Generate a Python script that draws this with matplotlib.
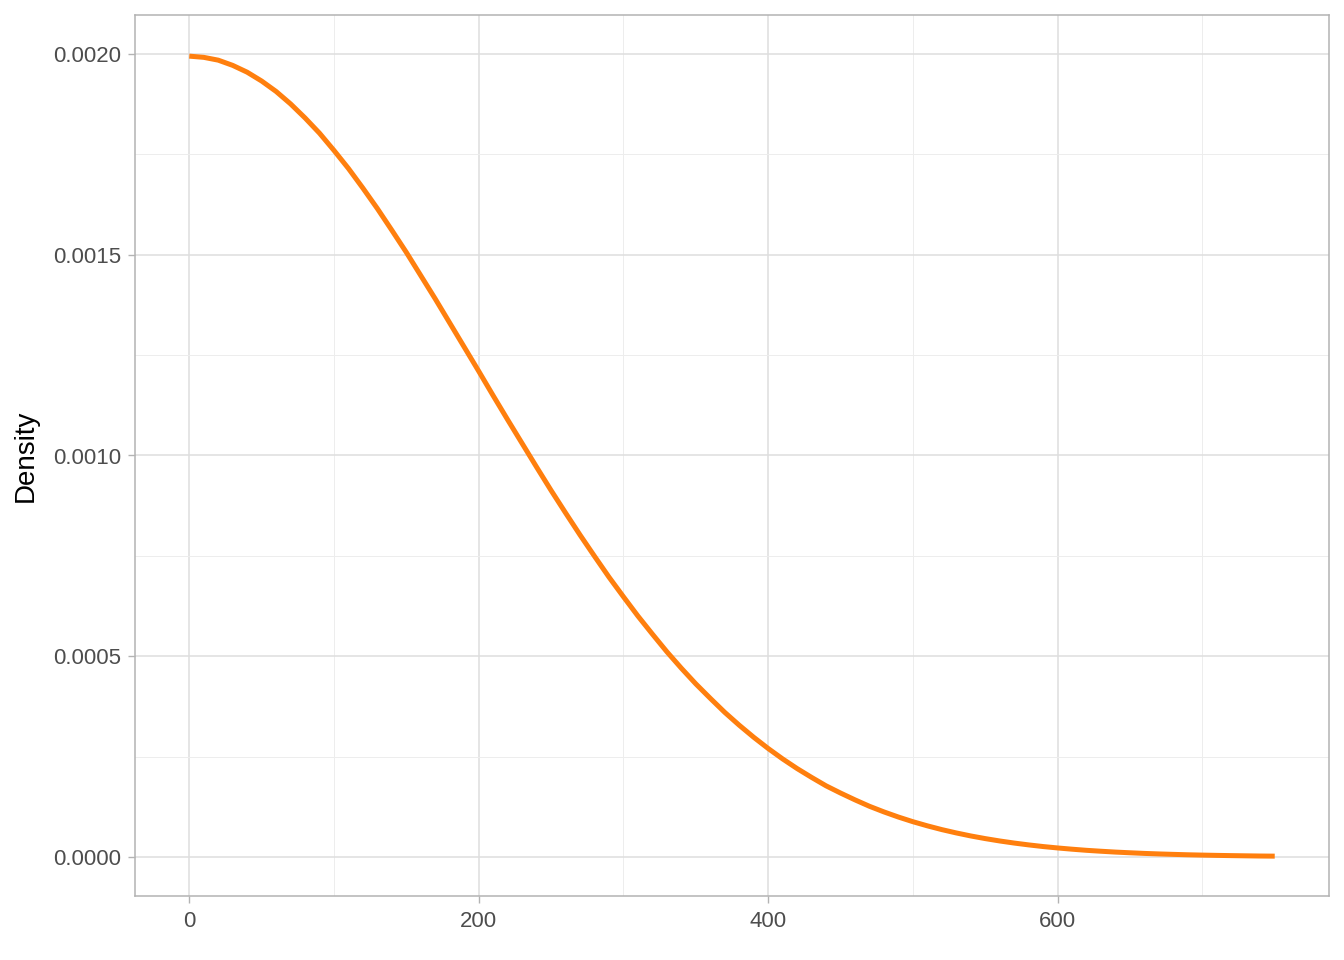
import matplotlib
matplotlib.use("Agg")
import matplotlib.pyplot as plt
import numpy as np

# values (x every 10 units)
x_vals = list(range(0, 751, 10))
density = [0.001995, 0.001992, 0.001985, 0.001972, 0.001955, 0.001933, 0.001907,
           0.001876, 0.001841, 0.001803, 0.001760, 0.001715, 0.001666, 0.001615,
           0.001561, 0.001506, 0.001448, 0.001390, 0.001330, 0.001270, 0.001210,
           0.001149, 0.001089, 0.001030, 0.000971, 0.000913, 0.000857, 0.000802,
           0.000749, 0.000697, 0.000648, 0.000600, 0.000555, 0.000511, 0.000470,
           0.000431, 0.000395, 0.000360, 0.000328, 0.000298, 0.000270, 0.000244,
           0.000220, 0.000198, 0.000177, 0.000159, 0.000142, 0.000126, 0.000112,
           0.0000992, 0.0000876, 0.0000773, 0.0000679, 0.0000596, 0.0000521,
           0.0000455, 0.0000396, 0.0000344, 0.0000298, 0.0000257, 0.0000222,
           0.0000191, 0.0000163, 0.0000140, 0.0000119, 0.0000102, 0.0000086,
           0.0000073, 0.0000062, 0.0000052, 0.0000044, 0.0000037, 0.0000031,
           0.0000026, 0.0000021, 0.0000018]

x_ticks = [0, 200, 400, 600]
x_minor = [100, 300, 500, 700]
y_ticks = [0.0, 0.0005, 0.0010, 0.0015, 0.0020]
y_labels = ["0.0000", "0.0005", "0.0010", "0.0015", "0.0020"]
y_minor = [0.00025, 0.00075, 0.00125, 0.00175]

plt.rcParams['font.family'] = ['Liberation Sans', 'DejaVu Sans']

fig = plt.figure(figsize=(13.44, 9.6), dpi=100)
ax = fig.add_axes([135/1344, 1 - 896/960, (1329-135)/1344, (896-15)/960])

ax.plot(x_vals, density, color='#FF7F0E', lw=3.6, solid_capstyle='butt',
        solid_joinstyle='round', zorder=3)

ax.set_xlim(-37.5, 787.5)
ax.set_ylim(-0.0000975, 0.0020975)

ax.set_xticks(x_ticks)
ax.set_xticks(x_minor, minor=True)
ax.set_yticks(y_ticks)
ax.set_yticklabels(y_labels)
ax.set_yticks(y_minor, minor=True)

ax.grid(True, which='major', color='#DEDEDE', lw=1.1)
ax.grid(True, which='minor', color='#EDEDED', lw=0.7)
ax.set_axisbelow(True)

for s in ax.spines.values():
    s.set_color('#B3B3B3')
    s.set_linewidth(1.1)

ax.tick_params(which='major', length=5, width=1.0, color='#B3B3B3',
               labelsize=16, labelcolor='#4D4D4D')
ax.tick_params(axis='y', which='major', pad=5)
ax.tick_params(axis='x', which='major', pad=6)
ax.tick_params(which='minor', length=0)

ax.set_ylabel('Density', fontsize=20, color='black', labelpad=10)

fig.savefig('out.png', dpi=100)
